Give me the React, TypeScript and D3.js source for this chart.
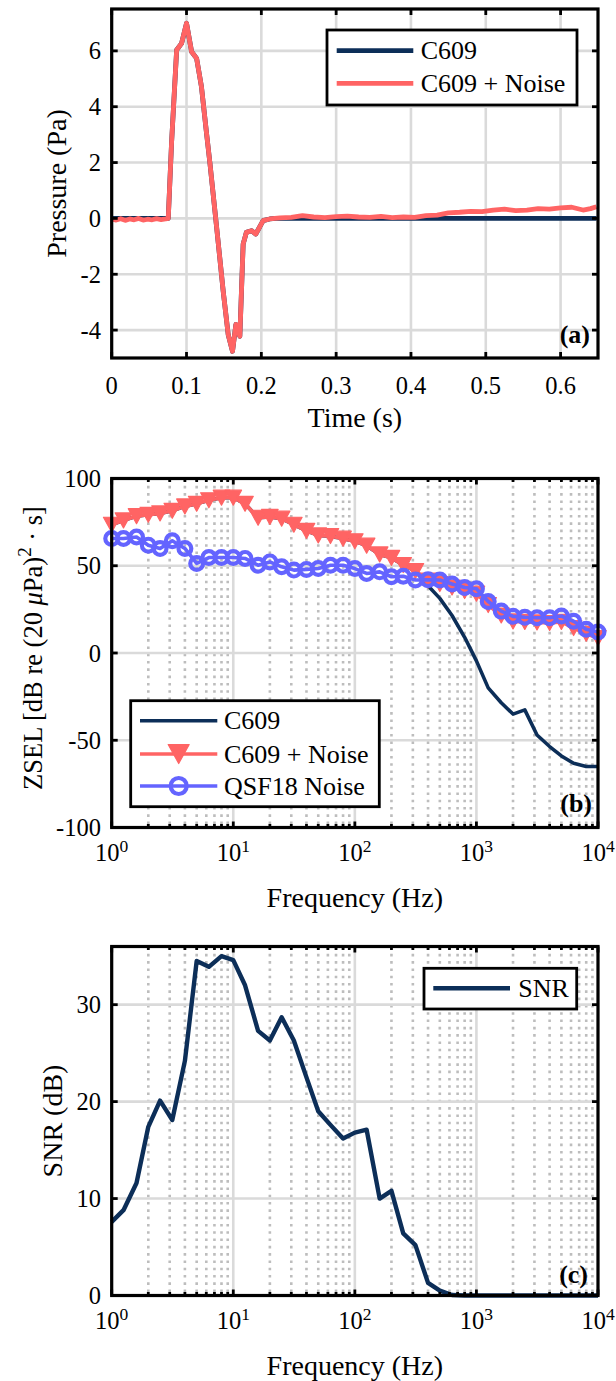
import React from 'react';
import * as d3 from 'd3';

// ---------- data ----------
const timeC609 = [0, 0.01, 0.02, 0.03, 0.04, 0.05, 0.06, 0.07, 0.0756, 0.08, 0.0868, 0.0934, 0.1, 0.1068, 0.1135, 0.12, 0.1268, 0.1312, 0.14, 0.149, 0.1557, 0.1615, 0.166, 0.1713, 0.1757, 0.18, 0.1869, 0.1926, 0.2024, 0.2113, 0.22, 0.25, 0.3, 0.35, 0.4, 0.45, 0.5, 0.55, 0.6, 0.648];
const pressC609 = [0, 0, 0, 0, 0, 0, 0, 0, 0, 2.7, 6.03, 6.27, 6.99, 5.97, 5.73, 4.71, 3.04, 2.0, -0.25, -2.6, -4.16, -4.76, -3.8, -4.22, -0.92, -0.5, -0.44, -0.56, -0.08, -0.02, 0, 0, 0, 0, 0, 0, 0, 0, 0, 0];

const timeNoisy = [0, 0.006, 0.012, 0.018, 0.024, 0.03, 0.036, 0.042, 0.048, 0.054, 0.06, 0.066, 0.072, 0.0756, 0.08, 0.0868, 0.0934, 0.1, 0.1068, 0.1135, 0.12, 0.1268, 0.1312, 0.14, 0.149, 0.1557, 0.1615, 0.166, 0.1713, 0.1757, 0.18, 0.1869, 0.1926, 0.2024, 0.2113, 0.225, 0.24, 0.255, 0.27, 0.285, 0.3, 0.315, 0.33, 0.345, 0.36, 0.375, 0.39, 0.405, 0.42, 0.435, 0.45, 0.465, 0.48, 0.495, 0.51, 0.525, 0.54, 0.555, 0.57, 0.585, 0.6, 0.615, 0.63, 0.64, 0.648];
const pressNoisy = [-0.02, -0.06, -0.01, -0.07, -0.02, -0.05, 0.0, -0.06, -0.03, -0.05, -0.01, -0.04, -0.02, 0.0, 2.7, 6.03, 6.27, 6.99, 5.97, 5.73, 4.71, 3.04, 2.0, -0.25, -2.6, -4.16, -4.76, -3.8, -4.22, -0.92, -0.5, -0.44, -0.56, -0.08, -0.02, 0.02, 0.04, 0.1, 0.05, 0.03, 0.06, 0.08, 0.05, 0.04, 0.07, 0.03, 0.05, 0.04, 0.1, 0.12, 0.2, 0.22, 0.25, 0.24, 0.3, 0.33, 0.28, 0.3, 0.35, 0.33, 0.38, 0.4, 0.3, 0.35, 0.42];

const freqs = [1, 1.25, 1.6, 2, 2.5, 3.15, 4, 5, 6.3, 8, 10, 12.5, 16, 20, 25, 31.5, 40, 50, 63, 80, 100, 125, 160, 200, 250, 315, 400, 500, 630, 800, 1000, 1250, 1600, 2000, 2500, 3150, 4000, 5000, 6300, 8000, 10000];
const zselC609 = [73.5, 76, 78.4, 79.2, 80, 81.5, 84, 85.5, 87.5, 89, 89, 85.5, 77.5, 78, 77, 73.5, 70, 67.4, 67, 65.5, 64, 61.5, 56.5, 54.5, 50.4, 47, 38.5, 31.3, 21.5, 9, -4.5, -20, -28.5, -35, -32.6, -47, -53.6, -59, -63.2, -65, -65];
const zselC609Noise = [73.5, 76, 78.4, 79.2, 80, 81.5, 84, 85.5, 87.5, 89, 89, 85.5, 77.5, 78, 77, 73.5, 70, 67.4, 67, 65.5, 64, 61.5, 56.5, 54.5, 50.4, 47, 41.5, 39.5, 37.5, 35.5, 34, 27.5, 21.5, 18.1, 17.8, 17.5, 17.2, 17.8, 14.3, 11, 8.6];
const zselQSF18 = [65.6, 65.6, 66.5, 61.8, 59.9, 64.3, 59.9, 51.3, 54.7, 54.7, 54.7, 54.2, 50.3, 52.2, 49.4, 47.5, 47.9, 48.4, 50.3, 50.3, 48.4, 45.6, 46.5, 43.7, 44, 41.8, 42, 41.8, 39.5, 37.5, 36.8, 29.5, 24, 21, 20.5, 20.2, 20.2, 21.2, 18.2, 13.6, 12];
const snr = [7.6, 8.8, 11.6, 17.4, 20.1, 18.1, 24.2, 34.5, 33.9, 35.0, 34.6, 32.0, 27.3, 26.3, 28.7, 26.3, 22.5, 19.0, 17.6, 16.2, 16.8, 17.1, 10.0, 10.8, 6.4, 5.2, 1.3, 0.5, 0.05, 0, 0, 0, 0, 0, 0, 0, 0, 0, 0, 0, 0];

const timeTicks = [0, 0.1, 0.2, 0.3, 0.4, 0.5, 0.6];
const pressTicks = [-4, -2, 0, 2, 4, 6];
const zselTicks = [-100, -50, 0, 50, 100];
const snrTicks = [0, 10, 20, 30];
const decadeTicks = [1, 10, 100, 1000, 10000];

// ---------- style ----------
const NAVY = '#0c2e58';
const RED = '#ff6464';
const BLUE = '#6464ff';
const FONT = '"Liberation Serif", "Times New Roman", serif';
const GRID = '#dadada';
const MINOR = '#bdbdbd';
const TICK_FS = 24.5;
const LABEL_FS = 28;
const LEG_FS = 26;

const L = 111.7;
const R = 598;

function minorTicks(): number[] {
  const out: number[] = [];
  for (const d of [1, 10, 100, 1000]) for (let m = 2; m <= 9; m++) out.push(d * m);
  return out;
}

type FrameProps = {
  x: any; y: any; top: number; bottom: number;
  xTicks: number[]; yTicks: number[]; log: boolean;
};

function Grid({ x, y, top, bottom, xTicks, yTicks, log }: FrameProps) {
  const mins = log ? minorTicks() : [];
  return (
    <g>
      {mins.map((m) => (
        <line key={'mn' + m} x1={x(m)} x2={x(m)} y1={top} y2={bottom} stroke={MINOR} strokeWidth={2.6} strokeDasharray="2.6 4.7" />
      ))}
      {xTicks.map((t) => (
        <line key={'gx' + t} x1={x(t)} x2={x(t)} y1={top} y2={bottom} stroke={GRID} strokeWidth={2.6} />
      ))}
      {yTicks.map((t) => (
        <line key={'gy' + t} x1={L} x2={R} y1={y(t)} y2={y(t)} stroke={GRID} strokeWidth={2.6} />
      ))}
    </g>
  );
}

function Box({ x, y, top, bottom, xTicks, yTicks, log }: FrameProps) {
  const mins = log ? minorTicks() : [];
  const TL = 6;
  const TM = 3.5;
  return (
    <g stroke="#000" strokeWidth={2.8}>
      {xTicks.map((t) => (
        <g key={'tx' + t}>
          <line x1={x(t)} x2={x(t)} y1={bottom} y2={bottom - TL} />
          <line x1={x(t)} x2={x(t)} y1={top} y2={top + TL} />
        </g>
      ))}
      {mins.map((t) => (
        <g key={'tm' + t}>
          <line x1={x(t)} x2={x(t)} y1={bottom} y2={bottom - TM} />
          <line x1={x(t)} x2={x(t)} y1={top} y2={top + TM} />
        </g>
      ))}
      {yTicks.map((t) => (
        <g key={'ty' + t}>
          <line x1={L} x2={L + TL} y1={y(t)} y2={y(t)} />
          <line x1={R} x2={R - TL} y1={y(t)} y2={y(t)} />
        </g>
      ))}
      <rect x={L} y={top} width={R - L} height={bottom - top} fill="none" strokeWidth={3.2} />
    </g>
  );
}

function YTickLabels({ y, ticks }: { y: any; ticks: number[] }) {
  return (
    <g fontFamily={FONT} fontSize={TICK_FS} textAnchor="end">
      {ticks.map((t) => (
        <text key={t} x={101} y={y(t)} dominantBaseline="central">{t}</text>
      ))}
    </g>
  );
}

function LogXTickLabels({ x, baseline }: { x: any; baseline: number }) {
  return (
    <g fontFamily={FONT} fontSize={TICK_FS} textAnchor="middle">
      {decadeTicks.map((t) => (
        <text key={t} x={x(t)} y={baseline}>
          <tspan>10</tspan>
          <tspan fontSize={17.5} dy={-9.5}>{Math.round(Math.log10(t))}</tspan>
        </text>
      ))}
    </g>
  );
}

export default function App() {
  // panel a
  const aTop = 9, aBot = 358;
  const xA = d3.scaleLinear().domain([0, 0.65]).range([L, R]);
  const yA = d3.scaleLinear().domain([-5, 7.5]).range([aBot, aTop]);
  // panel b
  const bTop = 478.5, bBot = 827.5;
  const xF = d3.scaleLog().domain([1, 1e4]).range([L, R]);
  const yB = d3.scaleLinear().domain([-100, 100]).range([bBot, bTop]);
  // panel c
  const cTop = 946.5, cBot = 1295.5;
  const yC = d3.scaleLinear().domain([0, 36]).range([cBot, cTop]);

  const lineA = d3.line<[number, number]>().x((d) => xA(d[0])).y((d) => yA(d[1]));
  const pathC609 = lineA(timeC609.map((t, i) => [t, pressC609[i]] as [number, number]));
  const pathNoisy = lineA(timeNoisy.map((t, i) => [t, pressNoisy[i]] as [number, number]));

  const lineB = d3.line<[number, number]>().x((d) => xF(d[0])).y((d) => yB(d[1]));
  const pB1 = lineB(freqs.map((f, i) => [f, zselC609[i]] as [number, number]));
  const pB2 = lineB(freqs.map((f, i) => [f, zselC609Noise[i]] as [number, number]));
  const pB3 = lineB(freqs.map((f, i) => [f, zselQSF18[i]] as [number, number]));

  const lineC = d3.line<[number, number]>().x((d) => xF(d[0])).y((d) => yC(d[1]));
  const pC = lineC(freqs.map((f, i) => [f, snr[i]] as [number, number]));

  const tri = (cx: number, cy: number, w: number, h: number) =>
    `M${cx - w / 2},${cy - h / 2}L${cx + w / 2},${cy - h / 2}L${cx},${cy + h / 2}Z`;

  return (
    <svg width={616} height={1381} style={{ position: 'absolute', left: 0, top: 0, background: '#fff' }}>
      <rect x={0} y={0} width={616} height={1381} fill="#fff" />

      {/* ---------- panel a ---------- */}
      <Grid x={xA} y={yA} top={aTop} bottom={aBot} xTicks={timeTicks} yTicks={pressTicks} log={false} />
      <path d={pathC609 || ''} fill="none" stroke={NAVY} strokeWidth={4.8} strokeLinejoin="round" />
      <path d={pathNoisy || ''} fill="none" stroke={RED} strokeWidth={4.8} strokeLinejoin="round" />
      <Box x={xA} y={yA} top={aTop} bottom={aBot} xTicks={timeTicks} yTicks={pressTicks} log={false} />
      <YTickLabels y={yA} ticks={pressTicks} />
      <g fontFamily={FONT} fontSize={TICK_FS} textAnchor="middle">
        {timeTicks.map((t) => (
          <text key={t} x={xA(t)} y={394}>{t}</text>
        ))}
      </g>
      <text x={(L + R) / 2} y={427} fontFamily={FONT} fontSize={LABEL_FS} textAnchor="middle">Time (s)</text>
      <text transform={`translate(65.5,${(aTop + aBot) / 2}) rotate(-90)`} fontFamily={FONT} fontSize={LABEL_FS} textAnchor="middle">Pressure (Pa)</text>
      <text x={590} y={343} fontFamily={FONT} fontSize={26} fontWeight="bold" textAnchor="end">(a)</text>
      {/* legend a */}
      <g>
        <rect x={327} y={30} width={250} height={75} fill="#fff" stroke="#000" strokeWidth={2.8} />
        <line x1={336.7} x2={413.3} y1={50.7} y2={50.7} stroke={NAVY} strokeWidth={4.8} />
        <line x1={336.7} x2={413.3} y1={83.3} y2={83.3} stroke={RED} strokeWidth={4.8} />
        <g fontFamily={FONT} fontSize={LEG_FS}>
          <text x={420.7} y={50.7} dominantBaseline="central">C609</text>
          <text x={420.7} y={83.3} dominantBaseline="central">C609 + Noise</text>
        </g>
      </g>

      {/* ---------- panel b ---------- */}
      <Grid x={xF} y={yB} top={bTop} bottom={bBot} xTicks={decadeTicks} yTicks={zselTicks} log={true} />
      <path d={pB1 || ''} fill="none" stroke={NAVY} strokeWidth={3.6} strokeLinejoin="round" />
      <path d={pB2 || ''} fill="none" stroke={RED} strokeWidth={3.6} strokeLinejoin="round" />
      {freqs.map((f, i) => (
        <path key={'tr' + f} d={tri(xF(f), yB(zselC609Noise[i]), 16.5, 15)} fill={RED} stroke={RED} strokeWidth={1.2} strokeLinejoin="round" />
      ))}
      <path d={pB3 || ''} fill="none" stroke={BLUE} strokeWidth={3.6} strokeLinejoin="round" />
      {freqs.map((f, i) => (
        <circle key={'ci' + f} cx={xF(f)} cy={yB(zselQSF18[i])} r={6.4} fill="none" stroke={BLUE} strokeWidth={4.2} />
      ))}
      <Box x={xF} y={yB} top={bTop} bottom={bBot} xTicks={decadeTicks} yTicks={zselTicks} log={true} />
      <YTickLabels y={yB} ticks={zselTicks} />
      <LogXTickLabels x={xF} baseline={861} />
      <text x={(L + R) / 2} y={906.7} fontFamily={FONT} fontSize={LABEL_FS} textAnchor="middle">Frequency (Hz)</text>
      <text transform={`translate(42,${(bTop + bBot) / 2 - 5}) rotate(-90)`} fontFamily={FONT} fontSize={26.5} textAnchor="middle">
        <tspan>ZSEL [dB re (20 </tspan>
        <tspan fontStyle="italic">μ</tspan>
        <tspan>Pa)</tspan>
        <tspan fontSize={19} dy={-11}>2</tspan>
        <tspan dy={11}> · s]</tspan>
      </text>
      <text x={592} y={811.7} fontFamily={FONT} fontSize={26} fontWeight="bold" textAnchor="end">(b)</text>
      {/* legend b */}
      <g>
        <rect x={130.7} y={700.7} width={248.6} height={106} fill="#fff" stroke="#000" strokeWidth={2.8} />
        <line x1={140} x2={217.3} y1={720.7} y2={720.7} stroke={NAVY} strokeWidth={3.6} />
        <line x1={140} x2={217.3} y1={754} y2={754} stroke={RED} strokeWidth={3.6} />
        <path d={tri(178.7, 754, 21, 19)} fill={RED} stroke={RED} strokeWidth={1.2} strokeLinejoin="round" />
        <line x1={140} x2={217.3} y1={786} y2={786} stroke={BLUE} strokeWidth={3.6} />
        <circle cx={178.7} cy={786} r={8} fill="none" stroke={BLUE} strokeWidth={4.2} />
        <g fontFamily={FONT} fontSize={LEG_FS}>
          <text x={224} y={720.7} dominantBaseline="central">C609</text>
          <text x={224} y={754} dominantBaseline="central">C609 + Noise</text>
          <text x={224} y={786} dominantBaseline="central">QSF18 Noise</text>
        </g>
      </g>

      {/* ---------- panel c ---------- */}
      <Grid x={xF} y={yC} top={cTop} bottom={cBot} xTicks={decadeTicks} yTicks={snrTicks} log={true} />
      <path d={pC || ''} fill="none" stroke={NAVY} strokeWidth={4.4} strokeLinejoin="round" />
      <Box x={xF} y={yC} top={cTop} bottom={cBot} xTicks={decadeTicks} yTicks={snrTicks} log={true} />
      <YTickLabels y={yC} ticks={snrTicks} />
      <LogXTickLabels x={xF} baseline={1329} />
      <text x={(L + R) / 2} y={1374.5} fontFamily={FONT} fontSize={LABEL_FS} textAnchor="middle">Frequency (Hz)</text>
      <text transform={`translate(62,${(cTop + cBot) / 2}) rotate(-90)`} fontFamily={FONT} fontSize={LABEL_FS} textAnchor="middle">SNR (dB)</text>
      <text x={588} y={1283} fontFamily={FONT} fontSize={26} fontWeight="bold" textAnchor="end">(c)</text>
      {/* legend c */}
      <g>
        <rect x={424} y={968.3} width={152.7} height={40.7} fill="#fff" stroke="#000" strokeWidth={2.8} />
        <line x1={433.3} x2={510} y1={988.3} y2={988.3} stroke={NAVY} strokeWidth={4.4} />
        <text x={518.3} y={988.3} dominantBaseline="central" fontFamily={FONT} fontSize={LEG_FS}>SNR</text>
      </g>
    </svg>
  );
}
